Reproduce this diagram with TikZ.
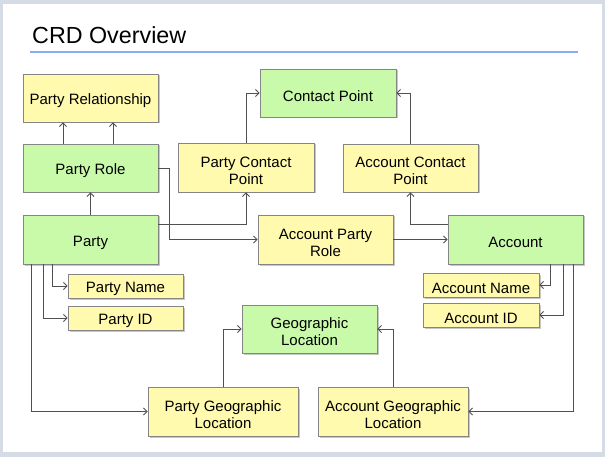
\documentclass[tikz,border=0pt]{standalone}
\usepackage{fontspec}
\setmainfont{Liberation Sans}
\usetikzlibrary{arrows.meta,shadows}
\definecolor{slidebg}{HTML}{D5DCE6}
\definecolor{ybox}{HTML}{FFFAAD}
\definecolor{gbox}{HTML}{C8FAAA}
\definecolor{boxline}{HTML}{858585}
\definecolor{connline}{HTML}{505050}
\definecolor{titleline}{HTML}{88AEF0}
\newcommand\txtup{\rule{0pt}{16.8pt}}
\tikzset{
  basebox/.style={draw=boxline, line width=0.9pt, align=center, inner sep=0pt,
    font=\fontsize{15}{17}\selectfont,
    drop shadow={shadow xshift=1.5pt, shadow yshift=-1.5pt, fill=black, opacity=0.22}},
  yelbox/.style={basebox, fill=ybox},
  grnbox/.style={basebox, fill=gbox},
  conn/.style={draw=connline, line width=0.9pt, -{Straight Barb[length=3.5pt,width=7pt]}},
}
\begin{document}
\begin{tikzpicture}[x=1pt,y=-1pt]
\fill[slidebg] (0,0) rectangle (605,457);
\fill[white] (3,4) rectangle (602,452);
\useasboundingbox (0,0) rectangle (605,457);
\node[anchor=base west, font=\fontsize{23.3}{27}\selectfont, inner sep=0pt] (title) at (32,44) {CRD Overview};
\draw[titleline, line width=2pt] (30,52.5) -- (578,52.5);

\node[yelbox, minimum width=135pt, minimum height=48pt] (prel) at (90.5,98) {\txtup Party Relationship};
\node[grnbox, minimum width=135pt, minimum height=48pt] (prole) at (90.5,168) {\txtup Party Role};
\node[grnbox, minimum width=135pt, minimum height=49pt] (party) at (90.5,239.5) {\txtup Party};
\node[yelbox, minimum width=136pt, minimum height=49pt] (pcp) at (246,167.5) {\txtup Party Contact\\Point};
\node[grnbox, minimum width=136pt, minimum height=48pt] (cp) at (328,93) {\txtup Contact Point};
\node[yelbox, minimum width=135pt, minimum height=48pt] (acp) at (410.5,168) {\txtup Account Contact\\Point};
\node[yelbox, minimum width=135pt, minimum height=49pt] (apr) at (325.5,239.5) {\txtup Account Party\\Role};
\node[grnbox, minimum width=135pt, minimum height=49pt] (acct) at (515.5,239.5) {\txtup Account};
\node[yelbox, minimum width=115pt, minimum height=24pt] (pname) at (125.5,286) {\txtup Party Name};
\node[yelbox, minimum width=115pt, minimum height=24pt] (pid) at (125.5,318) {\txtup Party ID};
\node[grnbox, minimum width=135pt, minimum height=48pt] (geo) at (309.5,329) {\txtup Geographic\\Location};
\node[yelbox, minimum width=150pt, minimum height=49pt] (pgl) at (223,411.5) {\txtup Party Geographic\\Location};
\node[yelbox, minimum width=150pt, minimum height=49pt] (agl) at (393,411.5) {\txtup Account Geographic\\Location};
\node[yelbox, minimum width=116pt, minimum height=24pt] (aname) at (481,285) {\txtup Account Name};
\node[yelbox, minimum width=116pt, minimum height=24pt] (aid) at (481,315) {\txtup Account ID};

\draw[conn] ([xshift=-27.5pt]prole.north) -- ([xshift=-27.5pt]prel.south);
\draw[conn] ([xshift=22.5pt]prole.north) -- ([xshift=22.5pt]prel.south);
\draw[conn] (party.north) -- (prole.south);
\draw[conn] (prole.east) -- ++(11pt,0) |- (apr.west);
\draw[conn] ([yshift=15.5pt]party.east) -| (pcp.south);
\draw[conn] (pcp.north) |- (cp.west);
\draw[conn] (acp.north) |- (cp.east);
\draw[conn] ([yshift=15.5pt]acct.west) -| (acp.south);
\draw[conn] (apr.east) -- (acct.west);
\draw[conn] ([xshift=-38.5pt]party.south) |- (pname.west);
\draw[conn] ([xshift=-47.5pt]party.south) |- (pid.west);
\draw[conn] ([xshift=-59.5pt]party.south) |- (pgl.west);
\draw[conn] (pgl.north) |- (geo.west);
\draw[conn] (agl.north) |- (geo.east);
\draw[conn] ([xshift=34.5pt]acct.south) |- (aname.east);
\draw[conn] ([xshift=47.5pt]acct.south) |- (aid.east);
\draw[conn] ([xshift=57.5pt]acct.south) |- (agl.east);
\end{tikzpicture}
\end{document}
